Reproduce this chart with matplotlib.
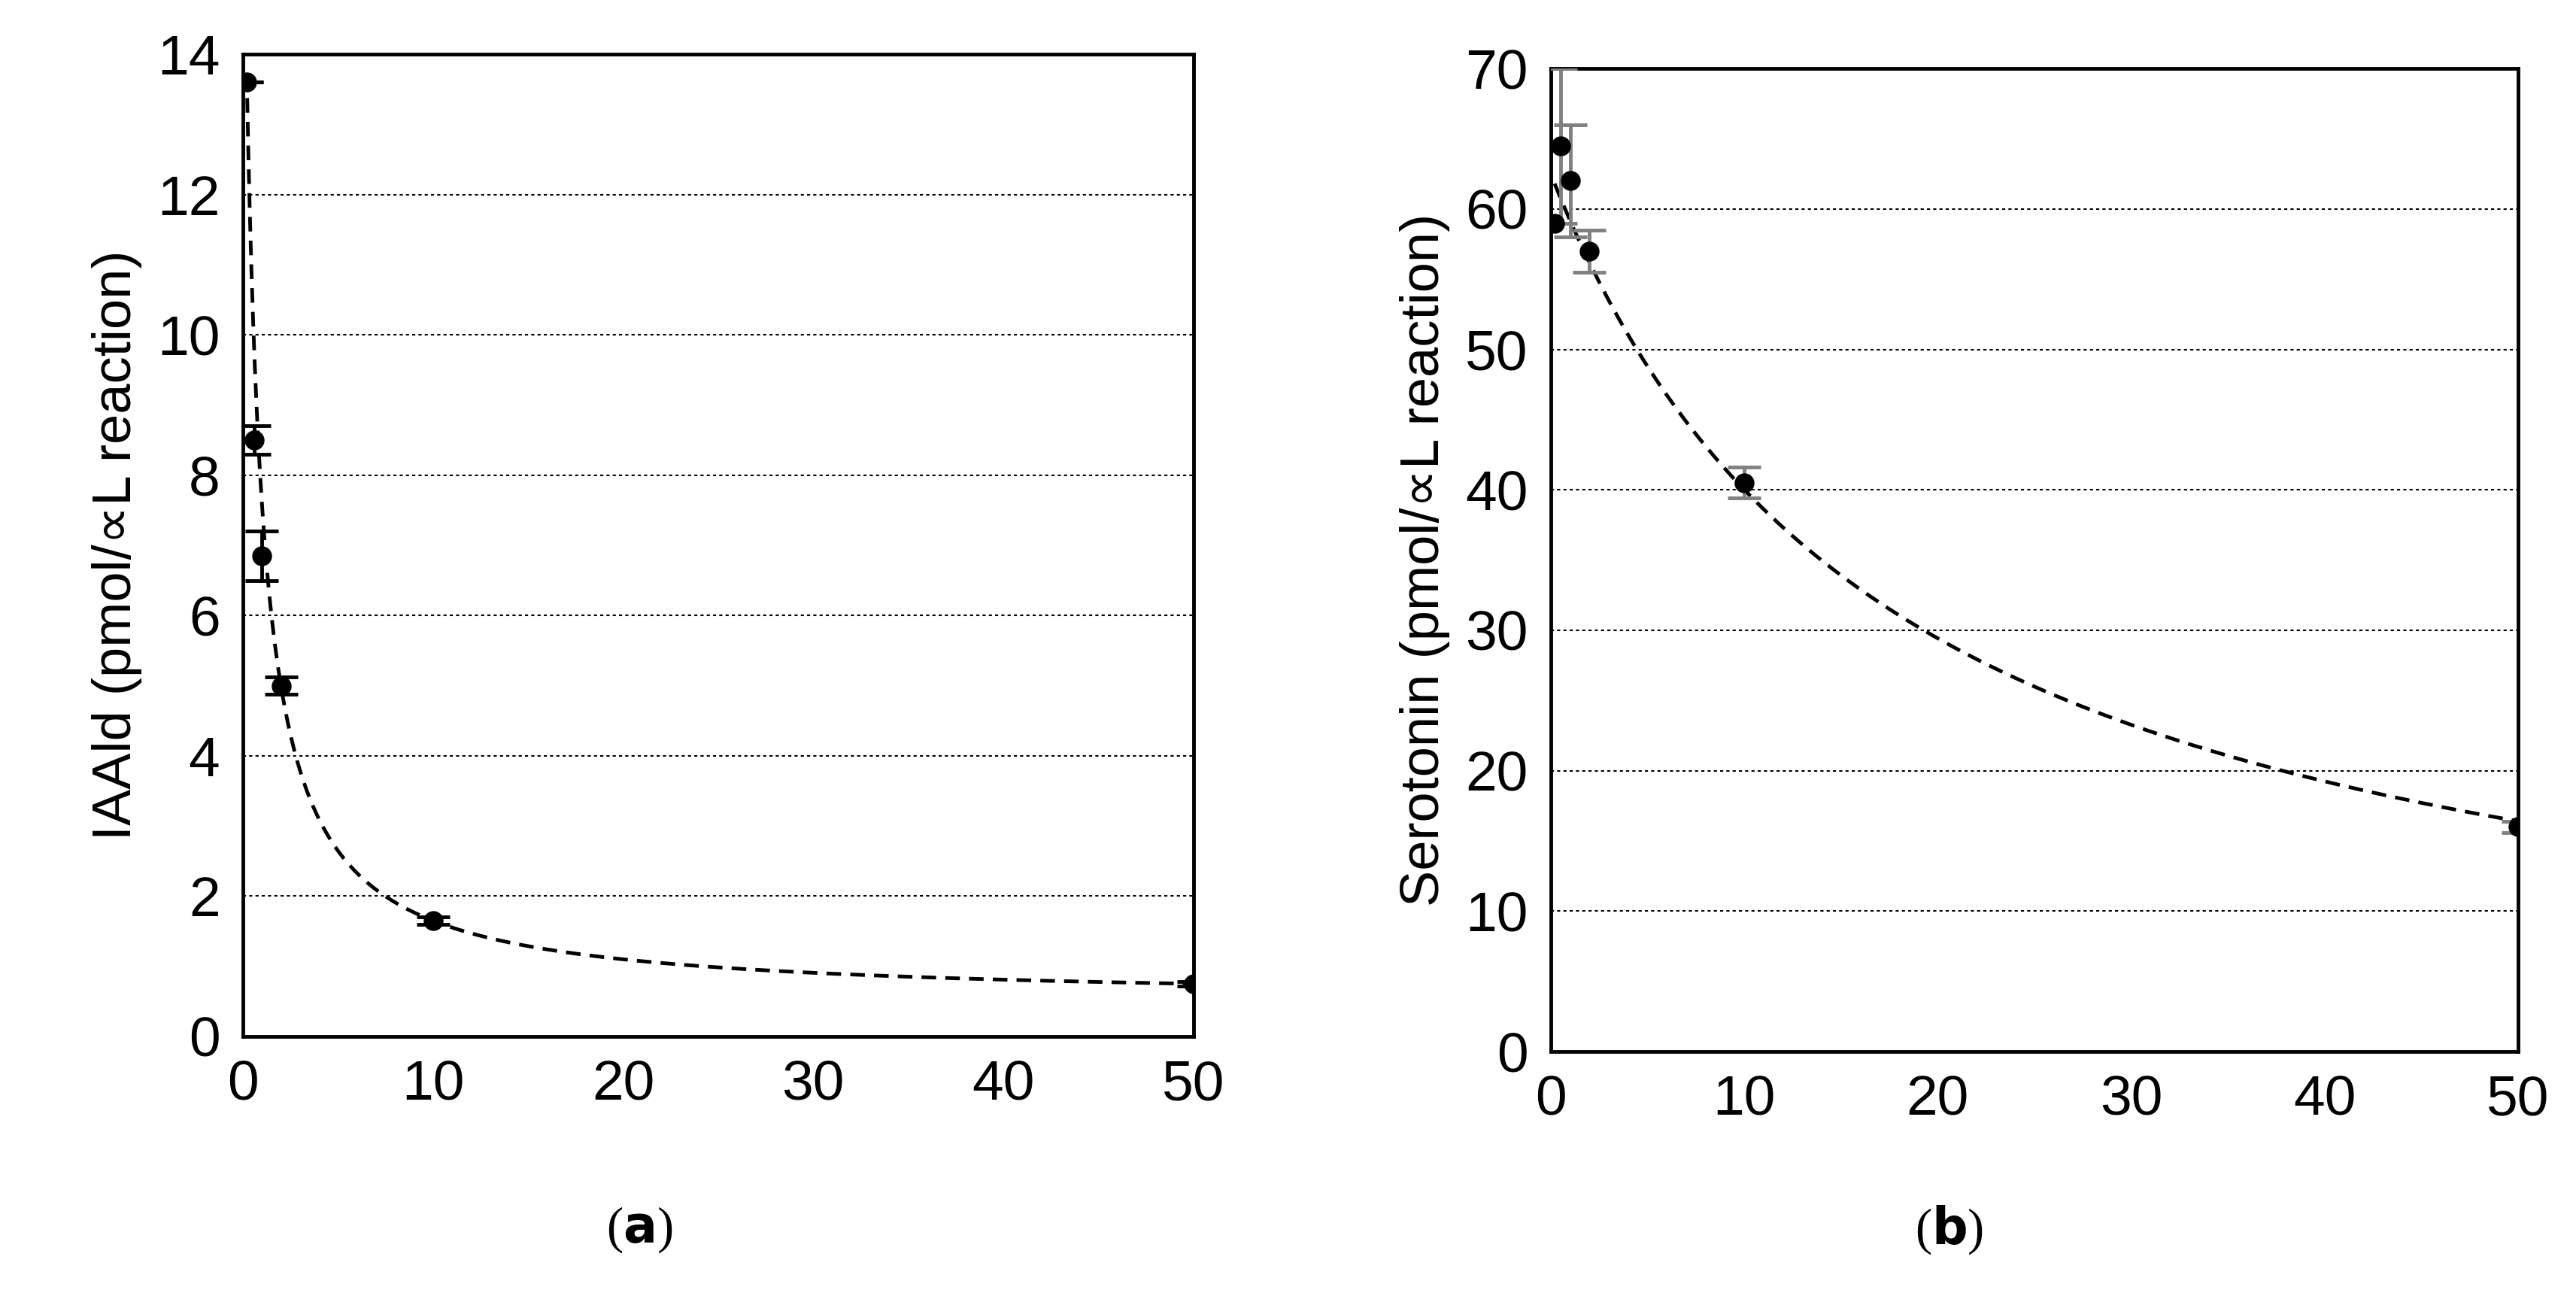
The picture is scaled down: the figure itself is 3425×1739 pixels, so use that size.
import matplotlib.pyplot as plt
import numpy as np

plt.rcParams['font.family'] = ['Liberation Sans', 'DejaVu Sans']

# panel (a) IAAld
conc_a = [0.2, 0.6, 1.0, 2.0, 10, 50]
iaald = [13.6, 8.5, 6.85, 5.0, 1.65, 0.75]
iaald_err = [0.0, 0.2, 0.35, 0.12, 0.05, 0.03]
# hyperbolic fit y = c + k/(x + d)
fit_a_c, fit_a_k, fit_a_d = 0.509, 12.24, 0.727

# panel (b) serotonin
conc_b = [0.2, 0.5, 1.0, 2.0, 10, 50]
sero = [59.0, 64.5, 62.0, 57.0, 40.5, 16.0]
sero_err = [0.0, 5.5, 4.0, 1.5, 1.1, 0.4]
# inhibition fit y = y0 / (1 + x/K)
fit_b_y0, fit_b_k = 62.5, 17.8

fig = plt.figure(figsize=(34.25, 17.39), dpi=100)
ax1 = fig.add_axes([0.0943, 0.2076, 0.369, 0.751])
ax2 = fig.add_axes([0.602, 0.196, 0.3755, 0.7516])

xa = np.linspace(0.2, 50, 600)
ax1.plot(xa, fit_a_c + fit_a_k / (xa + fit_a_d), color='black', lw=3.5, dashes=(4, 2.5))
ax1.errorbar(conc_a, iaald, yerr=iaald_err, fmt='o', color='black', ms=18,
             ecolor='black', elinewidth=3.5, capsize=16, capthick=3.5, zorder=5)
ax1.set_ylim(0, 14)
ax1.set_yticks(range(0, 15, 2))
ax1.set_ylabel('IAAld (pmol/\u221dL reaction)', fontsize=52, labelpad=14)

xb = np.linspace(0.2, 50, 600)
ax2.plot(xb, fit_b_y0 / (1 + xb / fit_b_k), color='black', lw=3.5, dashes=(4, 2.5))
ax2.errorbar(conc_b, sero, yerr=sero_err, fmt='o', color='black', ms=18,
             ecolor='gray', elinewidth=3.5, capsize=16, capthick=3.5, zorder=5)
ax2.set_ylim(0, 70)
ax2.set_yticks(range(0, 71, 10))
ax2.set_ylabel('Serotonin (pmol/\u221dL reaction)', fontsize=52, labelpad=14)

for ax in (ax1, ax2):
    ax.set_xlim(0, 50)
    ax.set_xticks(range(0, 51, 10))
    ax.tick_params(labelsize=54, length=0, pad=22)
    ax.yaxis.grid(True, linestyle=(0, (2, 2)), color='black', lw=1.5)
    ax.set_axisbelow(True)
    for s in ax.spines.values():
        s.set_linewidth(3.5)
    for lab in ax.get_xticklabels() + ax.get_yticklabels():
        lab.set_clip_on(False)

fig.text(0.2483, 0.06, r'($\mathbf{a}$)', fontsize=48, ha='center', va='center',
         family=['Liberation Serif'])
fig.text(0.7566, 0.06, r'($\mathbf{b}$)', fontsize=48, ha='center', va='center',
         family=['Liberation Serif'])
fig.savefig('out.png', dpi=100)
